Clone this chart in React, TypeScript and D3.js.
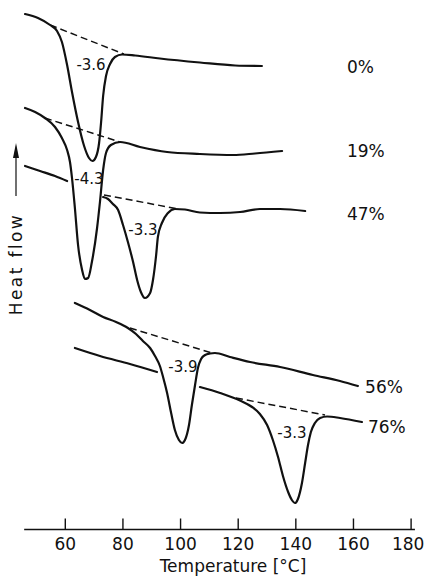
import React, { useEffect, useRef } from "react";
import * as d3 from "d3";

type Pt = [number, number];

// DSC traces: temperature [°C] vs. heat flow (arbitrary units, endotherm down)
const curve0: Pt[] = [
  [46.2, 52.6], [50.7, 52.2], [54.9, 51.5], [57.3, 50.9], [59.0, 49.8], [60.8, 47.5],
  [62.5, 44.8], [64.6, 41.8], [66.7, 39.4], [68.4, 38.2], [69.6, 37.9], [70.8, 38.3],
  [71.9, 39.7], [72.6, 41.8], [73.3, 44.4], [74.3, 46.4], [75.7, 47.6], [77.4, 48.3],
  [79.9, 48.55], [84.4, 48.45], [93.0, 48.15], [106.9, 47.75], [119.1, 47.45], [128.4, 47.4],
];

const curve19: Pt[] = [
  [46.2, 43.2], [49.7, 42.8], [53.1, 42.2], [56.6, 41.3], [59.0, 40.2], [60.8, 39.0],
  [61.8, 37.8], [62.5, 36.2], [63.5, 33.2], [64.6, 29.5], [66.0, 27.0], [67.0, 26.1],
  [68.1, 26.2], [69.4, 27.8], [71.2, 31.2], [72.2, 33.8], [73.3, 37.0], [74.3, 38.7],
  [76.0, 39.5], [79.2, 39.8], [86.1, 39.3], [95.5, 38.8], [106.9, 38.6], [118.4, 38.5],
  [126.0, 38.65], [135.4, 38.9],
];

// 47 %: trace interrupted where the 19 % peak passes through it
const curve47a: Pt[] = [[46.2, 37.4], [51.4, 36.9], [56.6, 36.4], [60.8, 35.9]];
const curve47b: Pt[] = [
  [73.3, 34.3], [75.0, 34.1], [76.7, 33.6], [78.5, 33.0], [80.2, 31.5], [81.9, 29.8],
  [83.7, 27.8], [85.1, 26.0], [86.4, 24.8], [87.8, 24.2], [89.6, 24.7], [90.6, 26.0],
  [91.7, 28.5], [92.3, 30.3], [93.7, 31.7], [95.8, 32.7], [98.2, 33.1], [101.7, 33.05],
  [106.9, 32.75], [113.9, 32.7], [120.8, 32.8], [127.7, 33.1], [134.7, 33.1], [143.4, 32.9],
];

const curve56: Pt[] = [
  [63.5, 23.7], [68.7, 23.0], [73.3, 22.3], [77.8, 21.8], [81.9, 21.2], [84.7, 20.6],
  [87.1, 19.9], [89.6, 19.2], [91.3, 18.4], [93.0, 17.4], [94.1, 16.3], [95.5, 14.7],
  [96.9, 12.7], [98.2, 11.0], [99.6, 10.0], [100.7, 9.7], [101.7, 10.0], [103.1, 11.5],
  [104.1, 13.5], [105.2, 15.5], [106.2, 17.2], [107.3, 18.1], [108.7, 18.5], [110.4, 18.65],
  [112.1, 18.7], [117.3, 18.3], [124.3, 17.8], [134.7, 17.3], [146.1, 16.5], [155.5, 15.9],
  [161.7, 15.4],
];

// 76 %: trace interrupted where the 56 % peak passes through it
const curve76a: Pt[] = [[63.5, 19.2], [72.2, 18.4], [82.6, 17.6], [92.0, 16.8]];
const curve76b: Pt[] = [
  [106.9, 15.3], [113.9, 14.7], [120.8, 13.95], [125.0, 13.3], [127.7, 12.6], [130.2, 11.5],
  [132.2, 10.0], [134.0, 8.3], [135.7, 6.4], [137.5, 4.8], [138.8, 4.0], [139.9, 3.7],
  [140.9, 4.1], [142.3, 5.7], [143.4, 7.7], [144.4, 9.5], [145.4, 10.8], [146.8, 11.7],
  [148.6, 12.2], [151.0, 12.35], [155.5, 12.2], [163.1, 11.8],
];

// interpolated baselines under each melting peak
const baselines: [Pt, Pt][] = [
  [[54.9, 51.5], [80.5, 48.6]],
  [[53.1, 42.2], [79.2, 39.8]],
  [[73.6, 34.5], [98.6, 33.15]],
  [[82.6, 21.2], [111.1, 18.7]],
  [[119.4, 14.2], [150.3, 12.5]],
];

// melting enthalpies written inside the peaks
const peakLabels = ["-3.6", "-4.3", "-3.3", "-3.9", "-3.3"];
const peakLabelAt: Pt[] = [[69.1, 47.0], [68.4, 35.6], [87.1, 30.5], [101.0, 16.8], [138.8, 10.2]];

// sample composition next to each trace
const seriesNames = ["0%", "19%", "47%", "56%", "76%"];
const seriesNameAt: Pt[] = [[157.9, 46.7], [157.9, 38.3], [157.9, 32.0], [164.2, 14.7], [165.2, 10.7]];

const tickValues = [60, 80, 100, 120, 140, 160, 180];
const axisExtent = [45.9, 181.5];

const W = 425;
const H = 576;
const FONT = "'DejaVu Sans', sans-serif";

export default function App() {
  const axisRef = useRef<SVGGElement>(null);

  const x = d3.scaleLinear().domain([60, 180]).range([64.8, 410.6]);
  const y = d3.scaleLinear().domain([0, 54]).range([540, 0]);
  const axisY = 529.5;

  const line = d3
    .line<Pt>()
    .x((d) => x(d[0]))
    .y((d) => y(d[1]))
    .curve(d3.curveMonotoneX);

  const straight = d3
    .line<Pt>()
    .x((d) => x(d[0]))
    .y((d) => y(d[1]));

  useEffect(() => {
    if (!axisRef.current) return;
    const g = d3.select(axisRef.current);
    g.selectAll("*").remove();
    g.call(
      d3
        .axisBottom(x)
        .tickValues(tickValues)
        .tickFormat(d3.format("d"))
        .tickSizeInner(-11)
        .tickSizeOuter(0)
        .tickPadding(8)
    );
    g.select(".domain").remove();
    g.selectAll(".tick line").attr("stroke", "#111").attr("stroke-width", 1.4);
    g.selectAll<SVGTextElement, number>(".tick text")
      .attr("fill", "#111")
      .attr("dx", (d) => (d === 180 ? -3 : 0))
      .style("font-family", FONT)
      .style("font-size", "17px");
  }, []);

  const traces = [curve0, curve19, curve47a, curve47b, curve56, curve76a, curve76b];

  return (
    <svg
      width={W}
      height={H}
      viewBox={`0 0 ${W} ${H}`}
      style={{ position: "absolute", left: 0, top: 0, background: "#fff", display: "block" }}
    >
      {/* baselines */}
      {baselines.map((b, i) => (
        <path
          key={`b${i}`}
          d={straight(b) ?? ""}
          fill="none"
          stroke="#111"
          strokeWidth={1.5}
          strokeDasharray="7,4"
        />
      ))}

      {/* DSC traces */}
      {traces.map((c, i) => (
        <path
          key={`c${i}`}
          d={line(c) ?? ""}
          fill="none"
          stroke="#111"
          strokeWidth={2.2}
          strokeLinecap="round"
          strokeLinejoin="round"
        />
      ))}

      {/* peak enthalpies */}
      {peakLabels.map((t, i) => (
        <text
          key={`p${i}`}
          x={x(peakLabelAt[i][0])}
          y={y(peakLabelAt[i][1])}
          textAnchor="middle"
          fontFamily={FONT}
          fontSize={15}
          fill="#111"
        >
          {t}
        </text>
      ))}

      {/* composition labels */}
      {seriesNames.map((t, i) => (
        <text
          key={`s${i}`}
          x={x(seriesNameAt[i][0])}
          y={y(seriesNameAt[i][1])}
          fontFamily={FONT}
          fontSize={17}
          fill="#111"
        >
          {t}
        </text>
      ))}

      {/* temperature axis */}
      <line
        x1={x(axisExtent[0])}
        x2={x(axisExtent[1])}
        y1={axisY}
        y2={axisY}
        stroke="#111"
        strokeWidth={1.5}
      />
      <g ref={axisRef} transform={`translate(0,${axisY})`} />
      <text x={233} y={572} textAnchor="middle" fontFamily={FONT} fontSize={17} fill="#111">
        Temperature [°C]
      </text>

      {/* heat flow direction */}
      <line x1={16} x2={16} y1={196} y2={155} stroke="#111" strokeWidth={1.2} />
      <path d="M16,143 L13,158 L19,158 Z" fill="#111" />
      <text
        transform="translate(22,264) rotate(-90)"
        textAnchor="middle"
        fontFamily={FONT}
        fontSize={17}
        letterSpacing={2.4}
        fill="#111"
      >
        Heat flow
      </text>
    </svg>
  );
}
